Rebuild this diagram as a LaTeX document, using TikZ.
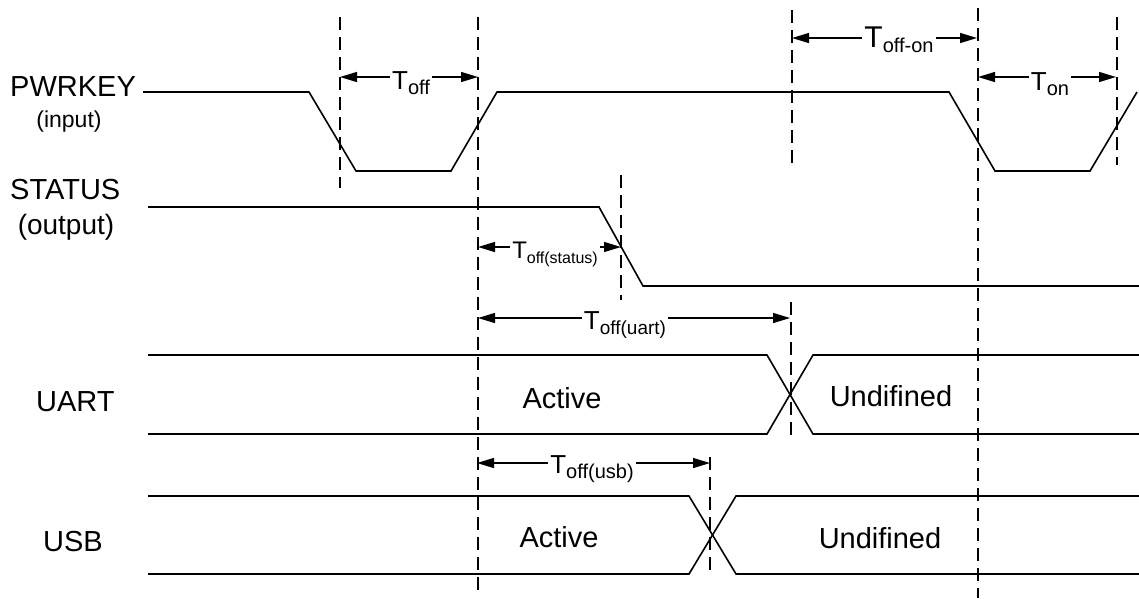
\documentclass[tikz,border=0pt]{standalone}
\usepackage{fontspec}
\setmainfont{Liberation Sans}
\usetikzlibrary{arrows.meta}
\newcommand{\sizedText}[2]{{\fontsize{#1}{#1}\selectfont #2}}
\newcommand{\tsub}[3][26]{%%
  \sizedText{#1}{T}\raisebox{-5pt}{\sizedText{#2}{#3}}%%
}
\newcommand{\markLine}[3]{%%
  \draw[markStyle] (#1,#2) -- (#1,#3);
}
\newcommand{\timeArrow}[6]{%%
  %% name, left x, right x, y, label base, label
  \coordinate (#1left) at (#2,#4);
  \coordinate (#1right) at (#3,#4);
  \draw[arrowStyle] (#1left) -- (#1right);
  \node[labelStyle] (#1) at (#5) {#6};
}
\newcommand{\busSignal}[4]{%%
  %% top y, bottom y, start of the crossing, end of the crossing
  \draw[waveStyle] (\xbegin,#1) -- (#3,#1) -- (#4,#2) -- (\xfinish,#2);
  \draw[waveStyle] (\xbegin,#2) -- (#3,#2) -- (#4,#1) -- (\xfinish,#1);
}

\begin{document}
\begin{tikzpicture}[%%
  x=1pt,y=-1pt,%%
  waveStyle/.style={line width=1.6pt,line join=miter},%%
  markStyle/.style={line width=1.5pt,dash pattern=on 13pt off 7pt},%%
  arrowStyle/.style={{Triangle[length=17pt,width=10pt]}-{Triangle[length=17pt,width=10pt]},line width=1.4pt},%%
  labelStyle/.style={fill=white,inner sep=2pt,anchor=base},%%
  nameStyle/.style={font=\fontsize{29}{29}\selectfont,inner sep=0pt,anchor=base west},%%
  stateStyle/.style={font=\fontsize{29}{29}\selectfont,inner sep=0pt,anchor=base}
]
\useasboundingbox (0,0) rectangle (1139,598);
%%
%%
\pgfmathsetmacro{\xbegin}{148}
\pgfmathsetmacro{\xfinish}{1139}
\pgfmathsetmacro{\pwrHigh}{92}
\pgfmathsetmacro{\pwrLow}{171}
\pgfmathsetmacro{\statusHigh}{207}
\pgfmathsetmacro{\statusLow}{286}
%%
%% Signal names.
\node[nameStyle] (pwrkey) at (10,96) {PWRKEY};
\node[stateStyle,font=\fontsize{23}{23}\selectfont] (pwrkeyDir) at (69,127) {(input)};
\node[nameStyle] (status) at (10,199) {STATUS};
\node[stateStyle,font=\fontsize{28}{28}\selectfont] (statusDir) at (66,234) {(output)};
\node[nameStyle] (uart) at (36,411) {UART};
\node[nameStyle] (usb) at (43,551) {USB};
%%
%% PWRKEY waveform.
\draw[waveStyle] (143,\pwrHigh) -- (309,\pwrHigh) -- (356,\pwrLow) -- (451,\pwrLow)
  -- (497,\pwrHigh) -- (949,\pwrHigh) -- (995,\pwrLow) -- (1090,\pwrLow) -- (1137,\pwrHigh);
%% STATUS waveform.
\draw[waveStyle] (\xbegin,\statusHigh) -- (599,\statusHigh) -- (643,\statusLow) -- (\xfinish,\statusLow);
%% UART and USB buses.
\busSignal{355}{434}{767}{813}
\busSignal{496}{574}{689}{736}
\node[stateStyle] (uartActive) at (562,408) {Active};
\node[stateStyle] (uartUndef) at (891,406) {Undifined};
\node[stateStyle] (usbActive) at (559,547) {Active};
\node[stateStyle] (usbUndef) at (880,548) {Undifined};
%%
%% Dashed time marks.
\markLine{340}{17}{188}
\markLine{478}{17}{592}
\markLine{621}{175}{300}
\markLine{792}{10}{168}
\markLine{791}{302}{438}
\markLine{978}{8}{598}
\markLine{1117}{17}{165}
\markLine{710}{457}{570}
%%
%% Timing arrows.
\timeArrow{toff}{340}{478}{77}{411,89}{\tsub{20}{off}}
\timeArrow{toffon}{792}{977}{38}{899,47}{\tsub[30]{20}{off-on}}
\timeArrow{ton}{978}{1116}{77}{1050,90}{\tsub{20}{on}}
\timeArrow{tstatus}{478}{621}{247}{555,258}{\tsub[24]{16}{off(status)}}
\timeArrow{tuart}{478}{790}{318}{625,329}{\tsub{19}{off(uart)}}
\timeArrow{tusb}{477}{710}{463}{592,473}{\tsub{20}{off(usb)}}
\end{tikzpicture}
\end{document}
